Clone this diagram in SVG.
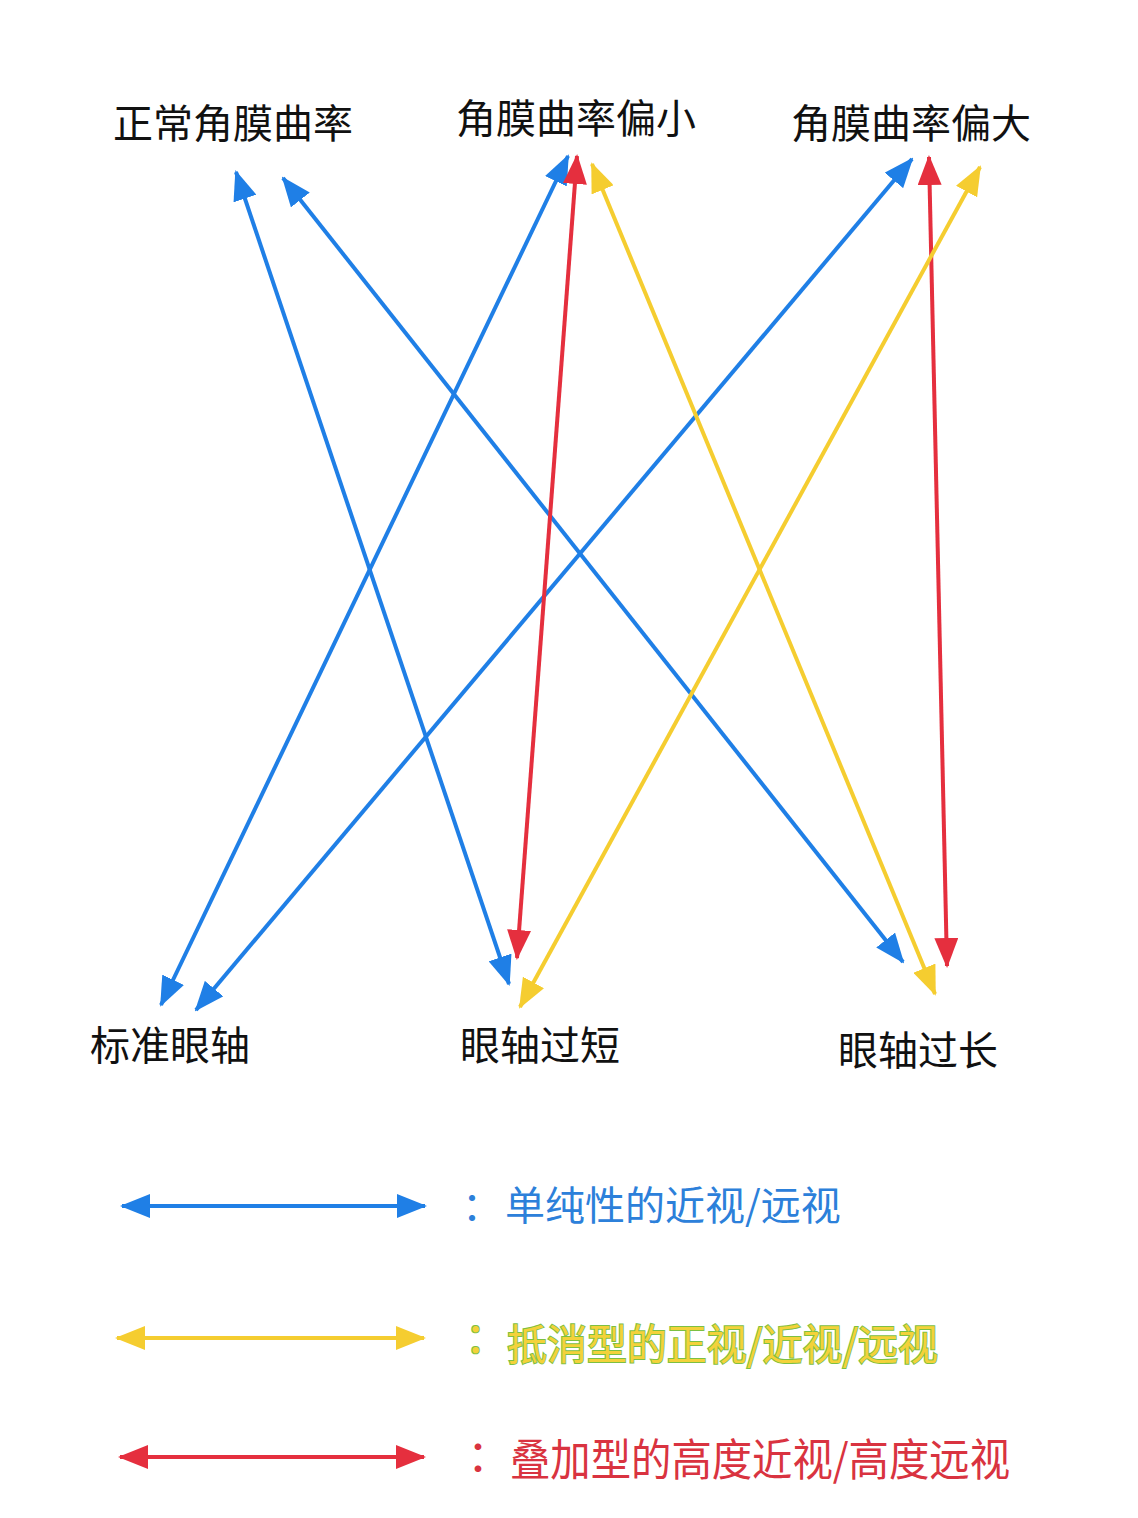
<svg xmlns="http://www.w3.org/2000/svg" width="1138" height="1518" viewBox="0 0 1138 1518">
<style>
.lbl{font-family:"Noto Sans CJK SC","Noto Sans",sans-serif;font-size:40px;fill:#111}
.b{stroke:#1F7FE6;stroke-width:4;fill:none}
.r{stroke:#E52F3E;stroke-width:4;fill:none}
.y{stroke:#F5CD30;stroke-width:4;fill:none}
.leg{font-family:"Noto Sans CJK SC","Noto Sans",sans-serif}
</style>
<defs>
<marker id="hb" viewBox="0 0 30 24" refX="28" refY="12" markerWidth="30" markerHeight="24" markerUnits="userSpaceOnUse" orient="auto-start-reverse"><path d="M0,0 L30,12 L0,24 z" fill="#1F7FE6"/></marker>
<marker id="hr" viewBox="0 0 30 24" refX="28" refY="12" markerWidth="30" markerHeight="24" markerUnits="userSpaceOnUse" orient="auto-start-reverse"><path d="M0,0 L30,12 L0,24 z" fill="#E52F3E"/></marker>
<marker id="hy" viewBox="0 0 30 24" refX="28" refY="12" markerWidth="30" markerHeight="24" markerUnits="userSpaceOnUse" orient="auto-start-reverse"><path d="M0,0 L30,12 L0,24 z" fill="#F5CD30"/></marker>
</defs>
<rect width="1138" height="1518" fill="#fff"/>
<g id="n-normal"><text class="lbl" x="113" y="138">正常角膜曲率</text></g>
<g id="n-small"><text class="lbl" x="456" y="133">角膜曲率偏小</text></g>
<g id="n-large"><text class="lbl" x="791" y="138">角膜曲率偏大</text></g>
<g id="n-std"><text class="lbl" x="90" y="1060">标准眼轴</text></g>
<g id="n-short"><text class="lbl" x="460" y="1060">眼轴过短</text></g>
<g id="n-long"><text class="lbl" x="838" y="1065">眼轴过长</text></g>
<g id="connectors">
<line class="b" x1="236" y1="172" x2="509" y2="984" marker-start="url(#hb)" marker-end="url(#hb)"/>
<line class="b" x1="283" y1="178" x2="903" y2="962" marker-start="url(#hb)" marker-end="url(#hb)"/>
<line class="b" x1="568" y1="156" x2="161" y2="1005" marker-start="url(#hb)" marker-end="url(#hb)"/>
<line class="b" x1="912" y1="159" x2="196" y2="1010" marker-start="url(#hb)" marker-end="url(#hb)"/>
<line class="r" x1="577" y1="156" x2="517" y2="958" marker-start="url(#hr)" marker-end="url(#hr)"/>
<line class="r" x1="929" y1="157" x2="947" y2="966" marker-start="url(#hr)" marker-end="url(#hr)"/>
<line class="y" x1="592" y1="164" x2="935" y2="994" marker-start="url(#hy)" marker-end="url(#hy)"/>
<line class="y" x1="980" y1="167" x2="520" y2="1007" marker-start="url(#hy)" marker-end="url(#hy)"/>
</g>
<g id="legend">
<line class="b" x1="122" y1="1206" x2="425" y2="1206" marker-start="url(#hb)" marker-end="url(#hb)"/>
<text class="leg" x="462" y="1220" font-size="40" fill="#2C80DA">：</text>
<text class="leg" x="505" y="1220" font-size="40" fill="#2C80DA">单纯性的近视/远视</text>
<line class="y" x1="117" y1="1338" x2="424" y2="1338" stroke-width="5" marker-start="url(#hy)" marker-end="url(#hy)"/>
<text class="leg" x="465" y="1353" font-size="42" fill="#F3D23A" stroke="#7CC043" stroke-width="2" paint-order="stroke">：</text>
<text class="leg" x="507" y="1360" font-size="42" textLength="431" lengthAdjust="spacingAndGlyphs" fill="#F3D23A" stroke="#7CC043" stroke-width="2" paint-order="stroke">抵消型的正视/近视/远视</text>
<line class="r" x1="120" y1="1457" x2="424" y2="1457" stroke-width="5" marker-start="url(#hr)" marker-end="url(#hr)"/>
<text class="leg" x="467" y="1472" font-size="44" fill="#D93340">：</text>
<text class="leg" x="510" y="1476" font-size="44" textLength="500" lengthAdjust="spacingAndGlyphs" fill="#D93340">叠加型的高度近视/高度远视</text>
</g>
</svg>
